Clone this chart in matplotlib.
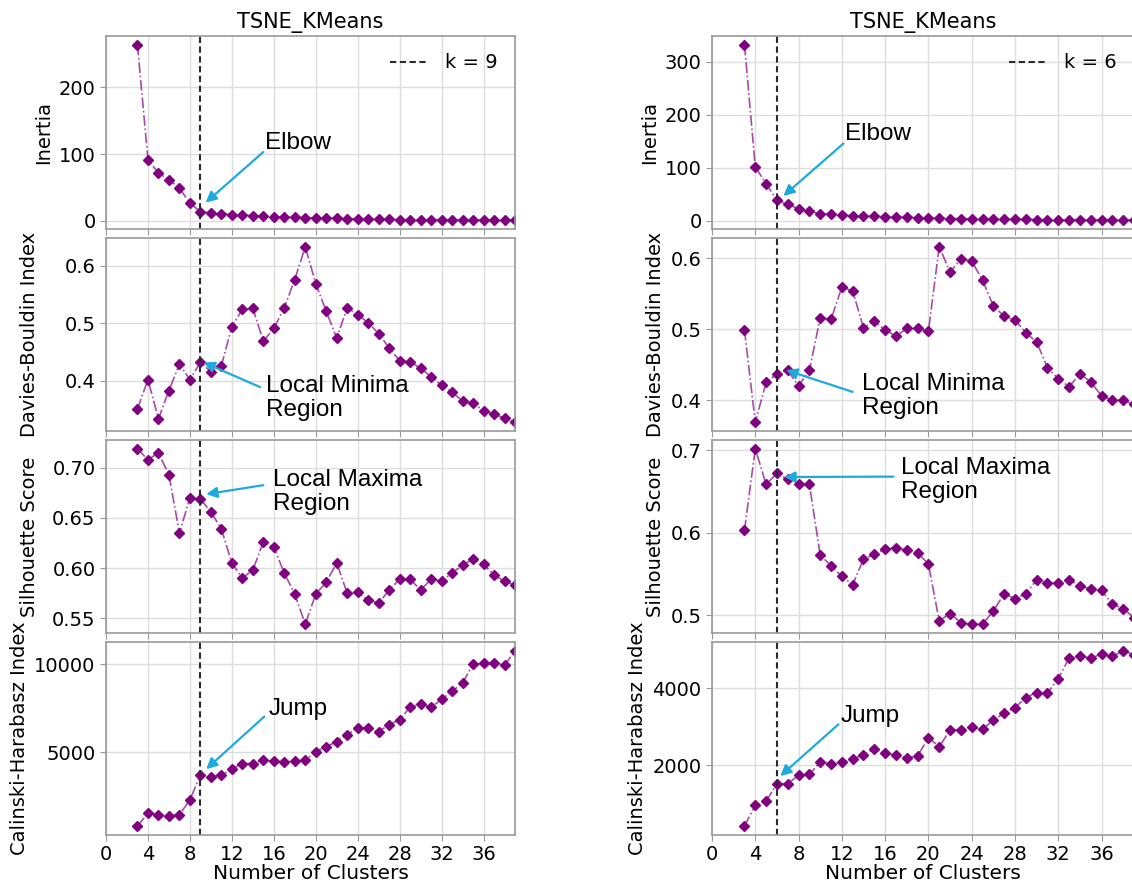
import numpy as np
import matplotlib.pyplot as plt

plt.rcParams['font.family'] = ['DejaVu Sans']
plt.rcParams['font.size'] = 14

n_clusters = list(range(3, 40))

# left run: best k = 9
inertia_a = [264, 91.5, 71.5, 61.5, 49, 26, 13.6, 11.5, 10.5, 9, 8.5, 7.5, 6.5, 6,
             5.5, 5, 4.5, 4, 3.5, 3.5, 3, 2.5, 2.5, 2, 2, 1.5, 1.5, 1.2, 1.1, 1, 1,
             0.9, 0.8, 0.8, 0.7, 0.7, 0.6]
db_a = [0.351, 0.402, 0.334, 0.383, 0.429, 0.402, 0.432, 0.416, 0.426, 0.494, 0.524,
        0.526, 0.469, 0.491, 0.527, 0.576, 0.633, 0.569, 0.521, 0.474, 0.527, 0.515,
        0.501, 0.482, 0.457, 0.435, 0.433, 0.422, 0.407, 0.392, 0.380, 0.365, 0.361,
        0.348, 0.342, 0.335, 0.328]
sil_a = [0.719, 0.708, 0.715, 0.693, 0.635, 0.670, 0.669, 0.656, 0.639, 0.605, 0.590,
         0.598, 0.626, 0.621, 0.595, 0.574, 0.544, 0.574, 0.586, 0.605, 0.575, 0.576,
         0.568, 0.565, 0.578, 0.589, 0.589, 0.578, 0.589, 0.587, 0.595, 0.603, 0.609,
         0.604, 0.593, 0.587, 0.583]
ch_a = [816, 1575, 1480, 1386, 1480, 2300, 3725, 3630, 3725, 4050, 4370, 4370, 4580,
        4485, 4470, 4485, 4560, 5040, 5320, 5610, 6010, 6390, 6390, 6180, 6580, 6845,
        7565, 7760, 7565, 8005, 8460, 8935, 10000, 10040, 10080, 9940, 10760]

# right run: best k = 6
inertia_b = [331.6, 101.5, 70, 38.5, 31, 22.7, 18.3, 13.3, 12, 10.8, 9.5, 8.9, 8.2,
             7.6, 7, 6.3, 5.7, 5, 4.5, 4.2, 3.9, 3.6, 3.3, 3.0, 2.8, 2.6, 2.4, 2.2,
             2.0, 1.8, 1.7, 1.5, 1.4, 1.3, 1.2, 1.1, 1.0]
db_b = [0.499, 0.369, 0.425, 0.437, 0.442, 0.420, 0.442, 0.516, 0.514, 0.559, 0.554,
        0.502, 0.511, 0.499, 0.490, 0.501, 0.501, 0.497, 0.616, 0.580, 0.599, 0.596,
        0.569, 0.533, 0.518, 0.513, 0.495, 0.482, 0.446, 0.430, 0.419, 0.437, 0.426,
        0.406, 0.400, 0.400, 0.394]
sil_b = [0.603, 0.702, 0.659, 0.672, 0.665, 0.659, 0.659, 0.573, 0.560, 0.547, 0.537,
         0.568, 0.574, 0.580, 0.582, 0.579, 0.576, 0.562, 0.493, 0.502, 0.491, 0.489,
         0.489, 0.505, 0.526, 0.520, 0.526, 0.543, 0.539, 0.539, 0.543, 0.535, 0.532,
         0.530, 0.513, 0.508, 0.497]
ch_b = [409, 957, 1061, 1512, 1520, 1730, 1757, 2078, 2034, 2078, 2165, 2260, 2425,
        2304, 2260, 2191, 2234, 2712, 2477, 2912, 2912, 2999, 2930, 3165, 3348, 3495,
        3756, 3886, 3869, 4251, 4782, 4842, 4782, 4886, 4825, 4973, 4869]

ylabels = ["Inertia", "Davies-Bouldin Index", "Silhouette Score", "Calinski-Harabasz Index"]
yticks_a = [[0, 100, 200], [0.4, 0.5, 0.6], [0.55, 0.60, 0.65, 0.70], [5000, 10000]]
yticks_b = [[0, 100, 200, 300], [0.4, 0.5, 0.6], [0.5, 0.6, 0.7], [2000, 4000]]

# (label, arrow tip, arrow tail, text anchor) per panel
notes_a = [("Elbow", (9.5, 27), (15.0, 103), (15.2, 116)),
           ("Local Minima\nRegion", (9.3, 0.432), (14.7, 0.389), (15.3, 0.370)),
           ("Local Maxima\nRegion", (9.55, 0.6737), (15.0, 0.6827), (15.9, 0.676)),
           ("Jump", (9.55, 4050), (15.1, 7034), (15.5, 7473))]
notes_b = [("Elbow", (6.6, 46.7), (12.15, 145.6), (12.25, 162.6)),
           ("Local Minima\nRegion", (6.86, 0.4423), (13.0, 0.4117), (13.85, 0.406)),
           ("Local Maxima\nRegion", (6.68, 0.6677), (16.77, 0.6682), (17.48, 0.664)),
           ("Jump", (6.31, 1713), (11.69, 3061), (11.85, 3278))]

W, H = 1132, 884
fig = plt.figure(figsize=(W / 100, H / 100), dpi=100)

panel_tops = [36, 238, 440, 642]
panel_h = 193


def draw_column(x_left, x_right, series, best_k, yticks, notes, label_x=None):
    axes = []
    for i, (vals, ylab) in enumerate(zip(series, ylabels)):
        rect = [x_left / W, 1 - (panel_tops[i] + panel_h) / H,
                (x_right - x_left) / W, panel_h / H]
        ax = fig.add_axes(rect, sharex=axes[0] if axes else None)
        ax.plot(n_clusters, vals, linestyle='-.', lw=1.2, color=(0.5, 0, 0.5, 0.7),
                marker='D', markersize=5.5, mfc='purple', mec='purple')
        ax.axvline(best_k, color='#2a2a2a', linestyle='--', dashes=(3, 1.7), lw=1.5,
                   label=f"k = {best_k}")
        ax.set_ylabel(ylab, fontsize=14)
        if label_x and label_x[i] is not None:
            ax.yaxis.set_label_coords(label_x[i], 0.5)
        ax.set_yticks(yticks[i])
        ax.grid(True, color='#dddddd', lw=1)
        ax.set_axisbelow(True)
        for sp in ax.spines.values():
            sp.set_color('#999999')
            sp.set_linewidth(1.2)
        ax.tick_params(color='#999999', length=4)

        text, tip, tail, anchor = notes[i]
        ax.annotate('', xy=tip, xytext=tail,
                    arrowprops=dict(arrowstyle='-|>', color='#1eaadf', lw=1.6,
                                    mutation_scale=16, shrinkA=0, shrinkB=0))
        ax.text(anchor[0], anchor[1], text, ha='left', va='center',
                fontsize=17.5, family=['Liberation Sans', 'DejaVu Sans'],
                linespacing=1.1, color='black')
        if i < 3:
            ax.tick_params(labelbottom=False)
        axes.append(ax)

    axes[0].set_title("TSNE_KMeans", fontsize=15)
    axes[0].legend(loc='upper right', frameon=False, fontsize=14)
    axes[-1].set_xlabel("Number of Clusters", fontsize=14.5, labelpad=0)
    axes[-1].set_xlim(0, 39)
    axes[-1].set_xticks(range(0, 37, 4))
    return axes


draw_column(106, 515, [inertia_a, db_a, sil_a, ch_a], 9, yticks_a, notes_a,
            label_x=[None, -0.165, -0.165, None])
draw_column(712, 1134, [inertia_b, db_b, sil_b, ch_b], 6, yticks_b, notes_b)

fig.savefig("out.png", dpi=100)
